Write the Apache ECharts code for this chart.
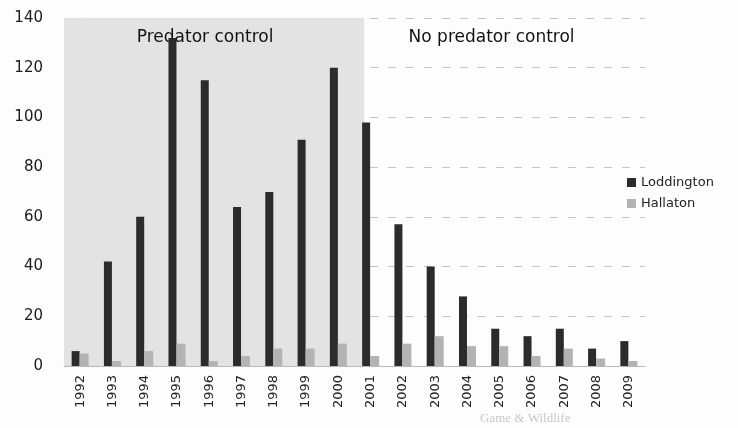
<!DOCTYPE html>
<html>
<head>
<meta charset="utf-8">
<script src="https://cdn.jsdelivr.net/npm/echarts@6/dist/echarts.min.js"></script>
<style>
  html, body { margin: 0; padding: 0; background: #fdfdfd; }
  #chart { width: 738px; height: 428px; }
</style>
</head>
<body>
<div id="chart"></div>
<script>
// 年份与两处样地的数据
const years = ["1992", "1993", "1994", "1995", "1996", "1997", "1998", "1999", "2000",
  "2001", "2002", "2003", "2004", "2005", "2006", "2007", "2008", "2009"];
const loddington = [6, 42, 60, 132, 115, 64, 70, 91, 120, 98, 57, 40, 28, 15, 12, 15, 7, 10];
const hallaton = [5, 2, 6, 9, 2, 4, 7, 7, 9, 4, 9, 12, 8, 8, 4, 7, 3, 2];
const yTicks = [0, 20, 40, 60, 80, 100, 120, 140];
// 分区：按类目序号（-0.5 为第一格左边缘）
const sections = [
  { name: "Predator control", from: -0.5, to: 8.8, color: "#e3e3e3", shift: -9 },
  { name: "No predator control", from: 8.8, to: 17.5, color: "rgba(255,255,255,0)", shift: -13 },
];

const chart = echarts.init(document.getElementById("chart"));

const option = {
  animation: false,
  backgroundColor: "#fdfdfd",
  textStyle: { fontFamily: "DejaVu Sans" },
  grid: { left: 64, right: 93, top: 18, bottom: 62 },
  legend: {
    orient: "vertical",
    left: 622,
    top: 171,
    itemWidth: 9,
    itemHeight: 9,
    itemGap: 8,
    icon: "rect",
    textStyle: { fontFamily: "DejaVu Sans", fontSize: 13, color: "#222" },
    data: ["Loddington", "Hallaton"],
  },
  xAxis: [
    {
      type: "category",
      data: years,
      axisLine: { lineStyle: { color: "#b8b8b8" } },
      axisTick: { show: false },
      axisLabel: { rotate: 90, color: "#222", fontSize: 13, margin: 9 },
    },
    {
      // 仅用于绘制分区背景
      type: "value",
      min: -0.5,
      max: 17.5,
      show: false,
    },
  ],
  yAxis: {
    type: "value",
    min: 0,
    max: yTicks[yTicks.length - 1],
    interval: 20,
    axisLine: { show: true, lineStyle: { color: "#c8c8c8" } },
    axisTick: { show: false },
    axisLabel: { color: "#1a1a1a", fontSize: 15, margin: 21 },
    splitLine: { lineStyle: { color: "#c4c4c4", type: [8, 10] } },
  },
  series: [
    {
      type: "line",
      xAxisIndex: 1,
      data: [],
      silent: true,
      z: 0,
      markArea: {
        silent: true,
        data: sections.map((s) => [
          {
            name: s.name,
            xAxis: s.from,
            itemStyle: { color: s.color },
            label: {
              position: "insideTop",
              distance: 11,
              offset: [s.shift, 0],
              color: "#111",
              fontSize: 17,
              fontFamily: "DejaVu Sans",
            },
          },
          { xAxis: s.to },
        ]),
      },
    },
    {
      name: "Loddington",
      type: "bar",
      data: loddington,
      barWidth: 8,
      barGap: "0%",
      itemStyle: { color: "#2b2b2b" },
    },
    {
      name: "Hallaton",
      type: "bar",
      data: hallaton,
      barWidth: 9,
      itemStyle: { color: "#b3b3b3" },
    },
  ],
  graphic: [
    {
      type: "text",
      left: 480,
      top: 412,
      style: {
        text: "Game & Wildlife",
        fill: "#c8c8c8",
        font: "13px 'Liberation Serif'",
      },
    },
  ],
};

chart.setOption(option);
</script>
</body>
</html>
